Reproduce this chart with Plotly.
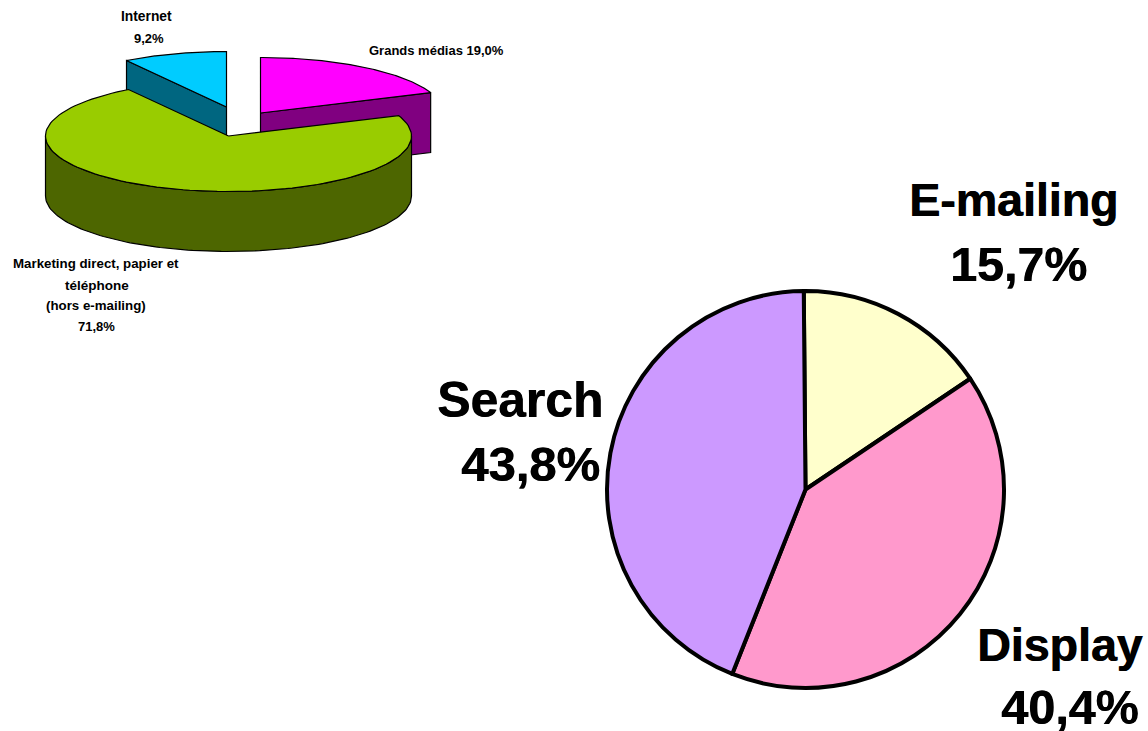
import numpy as np
import plotly.graph_objects as go

W, H = 1148, 731

# ---- data ----
web_labels = ["E-mailing", "Display", "Search"]
web_values = [15.7, 40.4, 43.8]
web_value_text = ["15,7%", "40,4%", "43,8%"]
web_colors = ["#FFFFCC", "#FF99CC", "#CC99FF"]

media_labels = ["Grands médias", "Marketing direct", "Internet"]
media_values = [19.0, 71.8, 9.2]
media_top_colors = ["#FF00FF", "#99CC00", "#00CCFF"]
media_side_colors = ["#800080", "#4D6600", "#006680"]
media_vertices = [(260.5, 113), (228.5, 136), (226.5, 107)]  # exploded slice apexes

# ---- geometry of the 3-D pie (pixels) ----
RX, RY, DEPTH = 183, 55.5, 60

fig = go.Figure()


def poly(xs, ys, color):
    fig.add_trace(go.Scatter(
        x=list(xs), y=list(ys), mode="lines", fill="toself", fillcolor=color,
        line=dict(color="black", width=1.2), hoverinfo="skip", showlegend=False))


def rim(cx, cy, t0, t1, drop=0.0, n=120):
    t = np.radians(np.linspace(t0, t1, n))
    return cx + RX * np.sin(t), cy - RY * np.cos(t) + drop


total = sum(media_values)
spans = []
a = 0.0
for v in media_values:
    spans.append((a, a + v / total * 360))
    a += v / total * 360


def cut_face(i, angle):
    cx, cy = media_vertices[i]
    ex, ey = rim(cx, cy, angle, angle, n=1)
    poly([cx, ex[0], ex[0], cx, cx],
         [cy, ey[0], ey[0] + DEPTH, cy + DEPTH, cy], media_side_colors[i])


def top_face(i):
    cx, cy = media_vertices[i]
    x, y = rim(cx, cy, *spans[i])
    poly([cx, *x, cx], [cy, *y, cy], media_top_colors[i])


# Internet: cut face then top
cut_face(2, spans[2][0])
top_face(2)
# Grands medias: cut face then top
cut_face(0, spans[0][1])
top_face(0)
# Marketing direct: outer wall then top
cx, cy = media_vertices[1]
x1, y1 = rim(cx, cy, 90, 270)
x2, y2 = rim(cx, cy, 270, 90, drop=DEPTH)
poly([*x1, *x2, x1[0]], [*y1, *y2, y1[0]], media_side_colors[1])
top_face(1)

# ---- flat pie ----
PIE_L, PIE_R, PIE_T, PIE_B = 607, 1004, 291, 688
fig.add_trace(go.Pie(
    labels=web_labels, values=web_values, sort=False, direction="clockwise",
    rotation=-0.5, textinfo="none", hoverinfo="label+percent", showlegend=False,
    marker=dict(colors=web_colors, line=dict(color="black", width=4)),
    domain=dict(x=[PIE_L / W, PIE_R / W], y=[1 - PIE_B / H, 1 - PIE_T / H])))

# ---- labels ----
annotations = []


def label(x, y, text, size, shadow=None):
    font = dict(family="Liberation Sans", size=size, color="black")
    if shadow:
        font["shadow"] = shadow
    annotations.append(dict(
        x=x, y=y, xref="x", yref="y", text=f"<b>{text}</b>", showarrow=False,
        xanchor="center", yanchor="middle", align="center", font=font))


big_name_pos = [(1013, 200, 46.5), (1059.5, 645, 46.5), (520, 400, 49.8)]
big_value_pos = [(1018.5, 264, 48.3), (1070, 707, 48.5), (530.5, 464, 49)]
heavy = "0.7px 0 0 black"
for (px, py, s), name in zip(big_name_pos, web_labels):
    label(px, py, name, s, heavy)
for (px, py, s), val in zip(big_value_pos, web_value_text):
    label(px, py, val, s, heavy)

small_lines = [
    (146, 16, "Internet", 13.8),
    (149, 38, "9,2%", 13),
    (436, 50, "Grands médias 19,0%", 13),
    (96, 263, "Marketing direct, papier et", 13.3),
    (97, 285, "téléphone", 13.5),
    (96, 305, "(hors e-mailing)", 13.3),
    (96, 326, "71,8%", 13),
]
for px, py, txt, s in small_lines:
    label(px, py, txt, s)

fig.update_layout(
    width=W, height=H, margin=dict(l=0, r=0, t=0, b=0),
    paper_bgcolor="white", plot_bgcolor="white",
    xaxis=dict(range=[0, W], visible=False, fixedrange=True, domain=[0, 1]),
    yaxis=dict(range=[H, 0], visible=False, fixedrange=True, domain=[0, 1]),
    annotations=annotations, showlegend=False)

fig.write_html(
    "out.html",
    config=dict(displayModeBar=False),
    post_script="document.body.style.margin='0';document.body.style.overflow='hidden';",
)
